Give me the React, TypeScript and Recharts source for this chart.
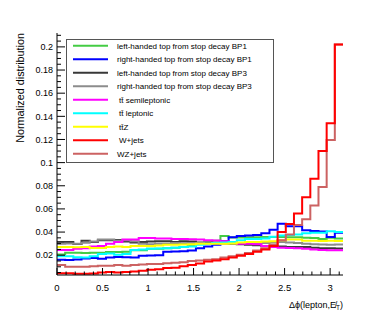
import React from "react";
import { LineChart, Line, XAxis, YAxis } from "recharts";

// bin edges of the Δφ histograms (35 bins from 0 to π)
const binEdges = [
  0, 0.0898, 0.1795, 0.2693, 0.359, 0.4488, 0.5386, 0.6283, 0.7181, 0.8078,
  0.8976, 0.9874, 1.0771, 1.1669, 1.2566, 1.3464, 1.4362, 1.5259, 1.6157,
  1.7054, 1.7952, 1.885, 1.9747, 2.0645, 2.1542, 2.244, 2.3338, 2.4235,
  2.5133, 2.603, 2.6928, 2.7826, 2.8723, 2.9621, 3.0518, 3.1416,
];

const leftBP1 = [
  0.0207, 0.0222, 0.0222, 0.022, 0.0222, 0.0222, 0.0228, 0.0228, 0.023, 0.0243,
  0.0243, 0.0255, 0.0255, 0.026, 0.0265, 0.027, 0.028, 0.03, 0.031, 0.0325,
  0.0365, 0.0352, 0.0352, 0.0355, 0.0355, 0.0358, 0.0358, 0.0357, 0.0355,
  0.0355, 0.035, 0.0348, 0.034, 0.035, 0.0345,
];
const rightBP1 = [
  0.016, 0.0158, 0.0162, 0.0172, 0.0175, 0.017, 0.018, 0.0185, 0.0183, 0.018,
  0.0195, 0.0198, 0.02, 0.023, 0.0232, 0.0235, 0.024, 0.026, 0.0275, 0.029,
  0.032, 0.0355, 0.0365, 0.037, 0.0375, 0.039, 0.042, 0.0472, 0.045, 0.045,
  0.0415, 0.041, 0.0405, 0.0357, 0.0395,
];
const leftBP3 = [
  0.0314, 0.0314, 0.0297, 0.0326, 0.0315, 0.033, 0.033, 0.0332, 0.0318, 0.031,
  0.0314, 0.0318, 0.032, 0.032, 0.0315, 0.032, 0.0318, 0.031, 0.031, 0.0305,
  0.0305, 0.03, 0.0295, 0.029, 0.0285, 0.028, 0.028, 0.0275, 0.0272, 0.027,
  0.027, 0.0265, 0.026, 0.026, 0.0258,
];
const rightBP3 = [
  0.03, 0.0302, 0.03, 0.0308, 0.0318, 0.0335, 0.0335, 0.0325, 0.033, 0.032,
  0.03, 0.0295, 0.0298, 0.03, 0.0305, 0.0303, 0.0305, 0.0305, 0.0302, 0.0305,
  0.03, 0.0302, 0.0305, 0.0303, 0.0305, 0.0305, 0.031, 0.0314, 0.031, 0.0305,
  0.03, 0.0295, 0.0292, 0.029, 0.0292,
];
const ttSemilep = [
  0.0245, 0.0245, 0.0255, 0.026, 0.0275, 0.028, 0.03, 0.0315, 0.0335, 0.0335,
  0.0348, 0.0348, 0.0345, 0.0345, 0.034, 0.034, 0.0337, 0.0335, 0.033, 0.0328,
  0.032, 0.0315, 0.03, 0.03, 0.0295, 0.028, 0.027, 0.0265, 0.0262, 0.026,
  0.0255, 0.025, 0.0245, 0.0243, 0.0242,
];
const ttLep = [
  0.0192, 0.019, 0.0182, 0.018, 0.019, 0.021, 0.0215, 0.0205, 0.021, 0.0245,
  0.025, 0.0255, 0.0258, 0.026, 0.0265, 0.027, 0.0275, 0.029, 0.03, 0.0305,
  0.031, 0.0315, 0.033, 0.034, 0.034, 0.0345, 0.036, 0.037, 0.0375, 0.0378,
  0.039, 0.0395, 0.0395, 0.0408, 0.04,
];
const ttZ = [
  0.027, 0.027, 0.0268, 0.027, 0.0262, 0.0262, 0.027, 0.0275, 0.0272, 0.028,
  0.028, 0.028, 0.0283, 0.029, 0.029, 0.0292, 0.0295, 0.03, 0.03, 0.0298, 0.03,
  0.0302, 0.031, 0.0315, 0.0315, 0.0318, 0.032, 0.033, 0.0335, 0.0335, 0.0325,
  0.0325, 0.0322, 0.0325, 0.0322,
];
const wJets = [
  0.0045, 0.0045, 0.004, 0.004, 0.0042, 0.005, 0.0055, 0.005, 0.0055, 0.006,
  0.0065, 0.0075, 0.0078, 0.009, 0.0092, 0.0105, 0.0115, 0.0128, 0.0145,
  0.0155, 0.0165, 0.018, 0.0195, 0.021, 0.023, 0.025, 0.028, 0.04, 0.047,
  0.056, 0.07, 0.086, 0.11, 0.134, 0.202,
];
const wzJets = [
  0.0115, 0.01, 0.01, 0.01, 0.0105, 0.011, 0.011, 0.0115, 0.011, 0.0115, 0.012,
  0.0125, 0.0125, 0.013, 0.0135, 0.014, 0.015, 0.0155, 0.016, 0.0165, 0.018,
  0.019, 0.0205, 0.022, 0.024, 0.026, 0.029, 0.033, 0.038, 0.046, 0.051, 0.063,
  0.079, 0.1195, 0.202,
];

const xMajorTicks = [0, 0.5, 1, 1.5, 2, 2.5, 3];
const yMajorTicks = [0.02, 0.04, 0.06, 0.08, 0.1, 0.12, 0.14, 0.16, 0.18, 0.2];
const xTicks = Array.from({ length: 32 }, (_, i) => Number((i * 0.1).toFixed(1)));
const yTicks = Array.from({ length: 42 }, (_, i) => Number(((i + 1) * 0.005).toFixed(3)));

const series = [
  { key: "leftBP1", name: "left-handed top from stop decay BP1", color: "#44cc44", values: leftBP1 },
  { key: "rightBP1", name: "right-handed top from stop decay BP1", color: "#0000ff", values: rightBP1 },
  { key: "leftBP3", name: "left-handed top from stop decay BP3", color: "#383838", values: leftBP3 },
  { key: "rightBP3", name: "right-handed top from stop decay BP3", color: "#8c8c8c", values: rightBP3 },
  { key: "ttSemilep", name: "tt\u0304 semileptonic", color: "#ff00ff", values: ttSemilep },
  { key: "ttLep", name: "tt\u0304 leptonic", color: "#00ffff", values: ttLep },
  { key: "ttZ", name: "tt\u0304Z", color: "#ffff00", values: ttZ },
  { key: "wJets", name: "W+jets", color: "#ff0000", values: wJets },
  { key: "wzJets", name: "WZ+jets", color: "#cc6262", values: wzJets },
];

// step data: one row per bin edge, last edge repeats the last bin
const data = binEdges.map((x, i) => {
  const row: Record<string, number> = { x };
  series.forEach((s) => {
    row[s.key] = s.values[Math.min(i, s.values.length - 1)];
  });
  return row;
});

const FONT = "'Liberation Sans', Arial, sans-serif";
const isMajor = (list: number[], v: number) => list.some((m) => Math.abs(m - v) < 1e-6);

function XTick(props: any) {
  const { x, y, payload, top } = props;
  const major = isMajor(xMajorTicks, payload.value);
  const len = major ? 7 : 3.5;
  const dir = top ? 1 : -1;
  return (
    <g>
      <line x1={x} x2={x} y1={y} y2={y + dir * len} stroke="#000" strokeWidth={1} />
      {!top && major && (
        <text x={x} y={y + 15.5} textAnchor="middle" fontSize={9.5} fontFamily={FONT} fill="#000">
          {payload.value}
        </text>
      )}
    </g>
  );
}

function YTick(props: any) {
  const { x, y, payload, right } = props;
  const major = isMajor(yMajorTicks, payload.value);
  const len = major ? 8 : 4;
  const dir = right ? -1 : 1;
  return (
    <g>
      <line x1={x} x2={x + dir * len} y1={y} y2={y} stroke="#000" strokeWidth={1} />
      {!right && major && (
        <text x={x - 4} y={y + 3.2} textAnchor="end" fontSize={9} fontFamily={FONT} fill="#000">
          {payload.value}
        </text>
      )}
    </g>
  );
}

export default function App() {
  const drawOrder = ["leftBP1", "rightBP1", "leftBP3", "rightBP3", "ttSemilep", "ttLep", "ttZ", "wzJets", "wJets"];
  return (
    <div style={{ position: "absolute", left: 0, top: 0, width: 382, height: 327, background: "#fff" }}>
      <LineChart width={382} height={327} data={data} margin={{ top: 33, right: 39, bottom: 0, left: 0 }}>
        <XAxis
          xAxisId="b"
          dataKey="x"
          type="number"
          domain={[0, Math.PI]}
          allowDataOverflow
          ticks={xTicks}
          interval={0}
          height={52}
          tickSize={0}
          tickMargin={0}
          tickLine={false}
          axisLine={{ stroke: "#000" }}
          tick={<XTick />}
        />
        <XAxis
          xAxisId="t"
          orientation="top"
          dataKey="x"
          type="number"
          domain={[0, Math.PI]}
          allowDataOverflow
          ticks={xTicks}
          interval={0}
          height={0}
          tickSize={0}
          tickMargin={0}
          tickLine={false}
          axisLine={{ stroke: "#000" }}
          tick={<XTick top />}
        />
        <YAxis
          yAxisId="l"
          type="number"
          domain={[0.0029, 0.212]}
          allowDataOverflow
          ticks={yTicks}
          interval={0}
          width={57}
          tickSize={0}
          tickMargin={0}
          tickLine={false}
          axisLine={{ stroke: "#000" }}
          tick={<YTick />}
        />
        <YAxis
          yAxisId="r"
          orientation="right"
          type="number"
          domain={[0.0029, 0.212]}
          allowDataOverflow
          ticks={yTicks}
          interval={0}
          width={0}
          tickSize={0}
          tickMargin={0}
          tickLine={false}
          axisLine={{ stroke: "#000" }}
          tick={<YTick right />}
        />
        {drawOrder.map((k) => {
          const s = series.find((q) => q.key === k)!;
          return (
            <Line
              key={k}
              xAxisId="b"
              yAxisId="l"
              type="stepAfter"
              dataKey={k}
              stroke={s.color}
              strokeWidth={2}
              dot={false}
              isAnimationActive={false}
            />
          );
        })}
      </LineChart>
      <svg
        width={382}
        height={327}
        style={{ position: "absolute", left: 0, top: 0, pointerEvents: "none" }}
      >
        <rect x={66.5} y={39.5} width={207} height={123} fill="#fff" stroke="#555" strokeWidth={1} />
        {series.map((s, i) => {
          const cy = 45.8 + i * 13.5;
          return (
            <g key={s.key}>
              <line x1={73} x2={108} y1={cy} y2={cy} stroke={s.color} strokeWidth={2} />
              <text x={i >= 4 && s.key !== "wzJets" ? 119 : 117} y={cy + 2.9} fontSize={8} fontFamily={FONT} fill="#000">
                {s.name}
              </text>
            </g>
          );
        })}
        <text
          transform="translate(23.5,33) rotate(-90)"
          textAnchor="end"
          fontSize={10.8}
          fontFamily={FONT}
          fill="#000"
        >
          Normalized distribution
        </text>
        <text x={343} y={308} textAnchor="end" fontSize={9} fontFamily={FONT} fill="#000">
          Δϕ(lepton,E̸<tspan fontSize={6.5} dy={2}>T</tspan>
          <tspan dy={-2}>)</tspan>
        </text>
      </svg>
    </div>
  );
}
